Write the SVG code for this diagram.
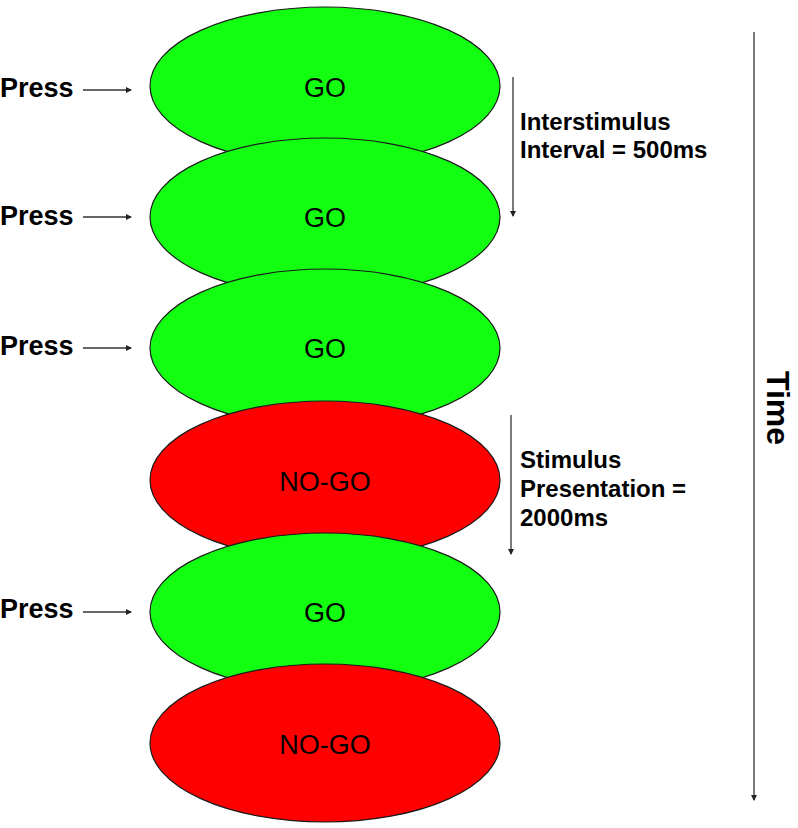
<svg xmlns="http://www.w3.org/2000/svg" width="798" height="828" viewBox="0 0 798 828">
<style>
.go{fill:#12FF12;stroke:#1a1a1a;stroke-width:1.2}
.nogo{fill:#FF0000;stroke:#1a1a1a;stroke-width:1.2}
.lbl{font-family:"Liberation Sans",Arial,sans-serif;font-size:27px;fill:#000;text-anchor:middle}
.press{font-family:"Liberation Sans",Arial,sans-serif;font-size:27px;font-weight:bold;fill:#000}
.note{font-family:"Liberation Sans",Arial,sans-serif;font-size:24px;font-weight:bold;fill:#000}
.time{font-family:"Liberation Sans",Arial,sans-serif;font-size:32px;font-weight:bold;fill:#000;text-anchor:middle}
.conn{stroke:#333;stroke-width:1.3;fill:none;marker-end:url(#ah)}
</style>
<defs>
<marker id="ah" markerWidth="6" markerHeight="6" refX="5" refY="3" orient="auto" markerUnits="userSpaceOnUse">
<path d="M0,0 L6,3 L0,6 Z" fill="#222"/>
</marker>
</defs>
<rect width="798" height="828" fill="#fff"/>
<g id="stim1"><ellipse class="go" cx="325" cy="86" rx="175" ry="79"/><text class="lbl" x="325" y="97">GO</text></g>
<g id="stim2"><ellipse class="go" cx="325" cy="217" rx="175" ry="79"/><text class="lbl" x="325" y="227">GO</text></g>
<g id="stim3"><ellipse class="go" cx="325" cy="348" rx="175" ry="79"/><text class="lbl" x="325" y="358">GO</text></g>
<g id="stim4"><ellipse class="nogo" cx="325" cy="480" rx="175" ry="79"/><text class="lbl" x="325" y="491">NO-GO</text></g>
<g id="stim5"><ellipse class="go" cx="325" cy="612" rx="175" ry="79"/><text class="lbl" x="325" y="622">GO</text></g>
<g id="stim6"><ellipse class="nogo" cx="325" cy="743" rx="175" ry="79"/><text class="lbl" x="325" y="754">NO-GO</text></g>
<g id="press1"><text class="press" x="0" y="97">Press</text></g>
<g id="press2"><text class="press" x="0" y="225">Press</text></g>
<g id="press3"><text class="press" x="0" y="355">Press</text></g>
<g id="press5"><text class="press" x="0" y="618">Press</text></g>
<g id="isi-label"><text class="note" x="520" y="130">Interstimulus</text><text class="note" x="520" y="158">Interval = 500ms</text></g>
<g id="sp-label"><text class="note" x="520" y="468">Stimulus</text><text class="note" x="520" y="497">Presentation =</text><text class="note" x="520" y="526">2000ms</text></g>
<g id="time-label"><text class="time" transform="translate(767,408) rotate(90)" x="0" y="0">Time</text></g>
<g id="connectors">
<line class="conn" x1="83" y1="90" x2="131" y2="90"/>
<line class="conn" x1="83" y1="217" x2="131" y2="217"/>
<line class="conn" x1="83" y1="348" x2="131" y2="348"/>
<line class="conn" x1="83" y1="612" x2="131" y2="612"/>
<line class="conn" x1="513" y1="77" x2="513" y2="216"/>
<line class="conn" x1="511" y1="415" x2="511" y2="554"/>
<line class="conn" x1="754" y1="32" x2="754" y2="800"/>
</g>
</svg>
